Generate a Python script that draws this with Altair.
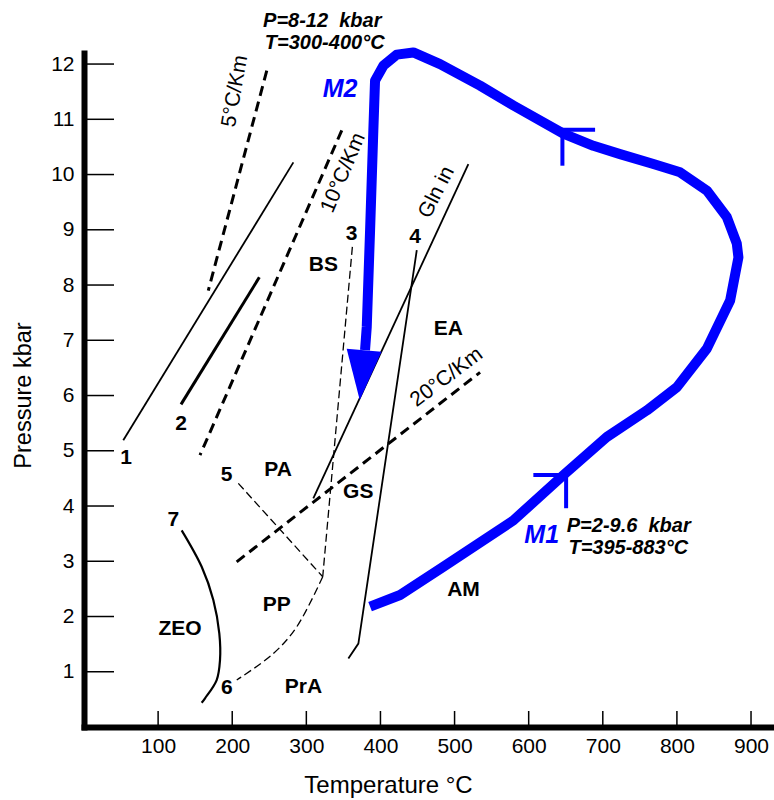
import altair as alt
import pandas as pd

FONT = "Liberation Sans"
BLUE = "#0000ff"

# ---- axis ticks ----
t_ticks = [100, 200, 300, 400, 500, 600, 700, 800, 900]
p_ticks = [1, 2, 3, 4, 5, 6, 7, 8, 9, 10, 11, 12]

# ---- P-T loop (M1 prograde -> peak -> M2 retrograde) ----
path_T = [386.0, 426.5, 484.9, 579.4, 646.8, 705.4, 759.4, 799.9, 840.4, 871.8,
          883.0, 880.8, 867.3, 840.4, 804.3, 768.3, 723.3, 687.3, 646.8, 579.4,
          534.4, 480.4, 444.4, 422.0, 403.9, 392.7, 390.4, 386.0, 381.5, 379.2]
path_P = [2.18, 2.39, 2.90, 3.74, 4.56, 5.25, 5.73, 6.15, 6.85, 7.72,
          8.50, 8.75, 9.23, 9.71, 10.04, 10.19, 10.37, 10.52, 10.74, 11.25,
          11.61, 12.00, 12.21, 12.17, 11.97, 11.70, 10.80, 8.99, 7.24, 6.82]
head_T = [375.0]
head_P = [6.37]

# direction barbs on the loop (start T, start P, end T, end P)
barb_T = [606.3, 650.5, 642.4, 645.5]
barb_P = [4.56, 4.56, 10.81, 10.81]
barb_T2 = [650.5, 650.5, 689.6, 645.5]
barb_P2 = [4.56, 3.96, 10.81, 10.16]

# ---- geotherms (dashed) ----
geo5_T, geo5_P = [246.6, 167.7], [11.88, 7.90]
geo10_T, geo10_P = [347.8, 156.5], [10.80, 4.92]
geo20_T, geo20_P = [206.0, 534.4], [2.99, 6.42]

# ---- facies boundaries ----
line1_T, line1_P = [53.0, 282.5], [5.19, 10.22]
line2_T, line2_P = [130.9, 236.6], [5.84, 8.14]
gln_T, gln_P = [309.4, 518.6], [4.14, 10.19]
line4_T, line4_P = [449.0, 370.2, 356.7], [8.63, 1.51, 1.24]
line3_T, line3_P = [362.1, 322.1], [8.69, 2.72]
line5_T, line5_P = [208.2, 322.1], [4.41, 2.72]
pp_T, pp_P = [322.1, 286.9, 255.5, 206.1], [2.72, 1.81, 1.33, 0.85]
zeo_T = [131.8, 158.8, 174.5, 182.6, 183.5, 179.0, 163.3, 158.8]
zeo_P = [3.56, 2.90, 2.30, 1.69, 1.21, 0.85, 0.52, 0.44]

# ---- labels ----
lab_txt = ["1", "2", "3", "4", "5", "6", "7", "BS", "PA", "GS", "ZEO", "PP", "PrA", "EA", "AM"]
lab_T = [56.7, 130.9, 361.0, 446.7, 192.5, 192.6, 120.5, 322.9, 262.0, 370.0, 129.6, 260.0, 296.0, 491.7, 512.0]
lab_P = [4.87, 5.49, 8.92, 8.87, 4.56, 0.70, 3.74, 8.37, 4.65, 4.25, 1.78, 2.21, 0.73, 7.21, 2.48]

stage_txt = ["M2", "M1"]
stage_T = [345.5, 617.6]
stage_P = [11.55, 3.47]

cond_txt = ["P=8-12\u00a0 kbar", "T=300-400°C", "P=2-9.6\u00a0 kbar", "T=395-883°C"]
cond_T = [241.6, 244.0, 651.4, 653.6]
cond_P = [12.78, 12.38, 3.64, 3.24]

rot_txt = ["5°C/Km", "10°C/Km", "20°C/Km", "Gln in"]
rot_T = [203.8, 350.0, 489.3, 475.8]
rot_P = [11.51, 10.03, 6.33, 9.68]
rot_angle = [280, 293, 323, 297]

# ---- scales / axes ----
xs = alt.Scale(domain=[0, 931], nice=False, zero=False)
ys = alt.Scale(domain=[0, 12.2], nice=False, zero=False)

xaxis = alt.Axis(values=t_ticks, ticks=False, tickSize=0, grid=False,
                 domainColor="black", domainWidth=6, domainCap="square",
                 labelFont=FONT, labelFontSize=21, labelColor="black",
                 labelPadding=8, labelFlush=False, labelOverlap=False,
                 title="Temperature °C", titleFont=FONT, titleFontSize=24,
                 titleFontWeight="normal", titleColor="black",
                 titleX=304, titleY=65, titleBaseline="alphabetic", titleAlign="center")
yaxis = alt.Axis(values=p_ticks, ticks=False, tickSize=0, grid=False,
                 domainColor="black", domainWidth=6, domainCap="square",
                 labelFont=FONT, labelFontSize=21, labelColor="black",
                 labelPadding=10, labelFlush=False, labelOverlap=False,
                 title="Pressure kbar", titleFont=FONT, titleFontSize=23.5,
                 titleFontWeight="normal", titleColor="black", titleAngle=270,
                 titleX=-54, titleY=342, titleBaseline="alphabetic", titleAlign="center")


def xenc():
    return alt.X("T:Q", scale=xs, axis=xaxis)


def yenc():
    return alt.Y("P:Q", scale=ys, axis=yaxis)


def line_layer(T, P, **mark):
    df = pd.DataFrame({"T": T, "P": P, "i": list(range(len(T)))})
    return alt.Chart(df).mark_line(**mark).encode(x=xenc(), y=yenc(), order="i:Q")


def text_layer(txt, T, P, **mark):
    df = pd.DataFrame({"T": T, "P": P, "txt": txt})
    return alt.Chart(df).mark_text(**mark).encode(x=xenc(), y=yenc(), text="txt:N")


layers = []

# inward ticks
layers.append(alt.Chart(pd.DataFrame({"P": p_ticks})).mark_rule(color="black", strokeWidth=1.5)
              .encode(y=yenc(), x=alt.value(0), x2=alt.value(30)))
layers.append(alt.Chart(pd.DataFrame({"T": t_ticks})).mark_rule(color="black", strokeWidth=1.5)
              .encode(x=xenc(), y=alt.value(674), y2=alt.value(658)))

thick_dash = dict(color="black", strokeWidth=3, strokeDash=[10, 6])
thin_dash = dict(color="black", strokeWidth=1.3, strokeDash=[8, 4])
layers.append(line_layer(geo5_T, geo5_P, **thick_dash))
layers.append(line_layer(geo10_T, geo10_P, **thick_dash))
layers.append(line_layer(geo20_T, geo20_P, **thick_dash))

layers.append(line_layer(line1_T, line1_P, color="black", strokeWidth=1.8))
layers.append(line_layer(line2_T, line2_P, color="black", strokeWidth=3))
layers.append(line_layer(gln_T, gln_P, color="black", strokeWidth=1.8))
layers.append(line_layer(line4_T, line4_P, color="black", strokeWidth=1.8))
layers.append(line_layer(line3_T, line3_P, **thin_dash))
layers.append(line_layer(line5_T, line5_P, **thin_dash))
layers.append(line_layer(pp_T, pp_P, interpolate="catmull-rom", **thin_dash))
layers.append(line_layer(zeo_T, zeo_P, color="black", strokeWidth=2.2, interpolate="catmull-rom"))

# P-T loop
layers.append(line_layer(path_T, path_P, color=BLUE, strokeWidth=10, strokeJoin="round", strokeCap="butt"))
layers.append(alt.Chart(pd.DataFrame({"T": head_T, "P": head_P}))
              .mark_point(shape="M -0.7 -1 L 0.7 -1 L 0 1 Z", filled=True, size=2500,
                          angle=5, color=BLUE, opacity=1)
              .encode(x=xenc(), y=yenc()))
layers.append(alt.Chart(pd.DataFrame({"T": barb_T, "P": barb_P, "T2": barb_T2, "P2": barb_P2}))
              .mark_rule(color=BLUE, strokeWidth=4)
              .encode(x=xenc(), y=yenc(), x2="T2:Q", y2="P2:Q"))

# texts
layers.append(text_layer(lab_txt, lab_T, lab_P, font=FONT, fontSize=21, fontWeight="bold",
                         color="black", align="center", baseline="middle"))
layers.append(text_layer(stage_txt, stage_T, stage_P, font=FONT, fontSize=25, fontWeight="bold",
                         fontStyle="italic", color=BLUE, align="center", baseline="middle"))
layers.append(text_layer(cond_txt, cond_T, cond_P, font=FONT, fontSize=20, fontWeight="bold",
                         fontStyle="italic", color="black", align="left", baseline="middle"))
for t, tx, px, ang in zip(rot_txt, rot_T, rot_P, rot_angle):
    layers.append(text_layer([t], [tx], [px], font=FONT, fontSize=21, color="black",
                             align="center", baseline="middle", angle=ang))

chart = (alt.layer(*layers)
         .properties(width=690, height=674,
                     autosize=alt.AutoSizeParams(type="none"),
                     padding={"left": 84, "top": 53, "right": 0, "bottom": 73})
         .configure_view(stroke=None))

chart.save("out.html", embed_options={"renderer": "svg", "actions": False})
